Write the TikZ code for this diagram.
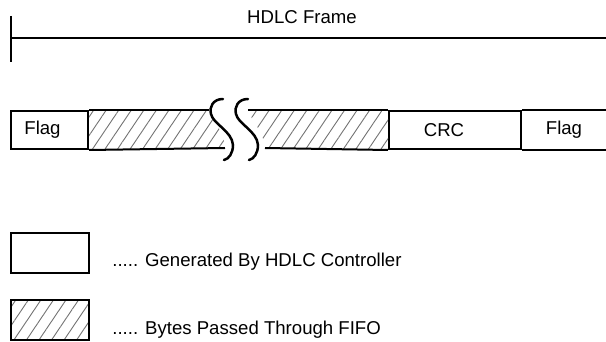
\documentclass[tikz,border=0pt]{standalone}
\usepackage{fontspec}
\setmainfont{Liberation Sans}
\usetikzlibrary{patterns.meta}

\begin{document}
\begin{tikzpicture}[
  x=0.5pt, y=-0.5pt,
  txt/.style={font=\fontsize{9.3}{11}\selectfont, inner sep=0pt},
  fld/.style={txt, draw, line width=1pt, anchor=north west,
              minimum height=19pt},
  hatch/.style={pattern={Lines[angle=56, distance=5.2pt, line width=0.45pt]},
                pattern color=black!55},
  brk/.style={line width=1.25pt, line cap=round}
]
  \useasboundingbox (0,0) rectangle (606,342);

  % frame span
  \node[txt] (title) at (302,17) {HDLC Frame};
  \coordinate (spanL) at (11,38);
  \coordinate (spanR) at (606,38);
  \draw[line width=1pt] (spanL) -- (spanR);
  \draw[line width=1pt] ([yshift=11pt]spanL) -- ([yshift=-12pt]spanL);

  % frame fields
  \node[fld, minimum width=38.5pt] (flagA) at (10,110) {Flag\hspace*{7pt}};
  \node[fld, minimum width=66pt] (crc) at (388,110) {CRC\hspace*{11pt}};
  \node[fld, draw=none, minimum width=43pt] (flagB) at (520,110) {Flag};

  % data bytes, with break
  \fill[hatch] (flagA.north east) -- (209,110)
    .. controls (214,122) and (224,132) .. (225,148) -- (flagA.south east) -- cycle;
  \fill[hatch] (248,110) -- (crc.north west) -- (crc.south west) -- (265,148)
    .. controls (264,132) and (252,122) .. (248,110) -- cycle;
  \draw[line width=1pt] (flagA.north east) -- (209,110);
  \draw[line width=1pt] (flagA.south east) -- (225,148);
  \draw[line width=1pt] (248,110) -- (crc.north west);
  \draw[line width=1pt] (265,148) -- (crc.south west);
  \draw[line width=1pt] (crc.north east) -- (flagB.north east);
  \draw[line width=1pt] (crc.south east) -- (flagB.south east);
  \draw[brk] (223,99) .. controls (213,99) and (209,107) .. (211,114)
    .. controls (213,124) and (232,131) .. (233,145)
    .. controls (233,153) and (229,159) .. (224,160);
  \draw[brk] (248,99) .. controls (238,99) and (234,107) .. (236,114)
    .. controls (238,124) and (257,131) .. (258,145)
    .. controls (258,153) and (254,159) .. (249,160);

  % legend
  \node[fld, minimum width=39pt, minimum height=20pt] (keyA) at (10,232) {};
  \node[fld, hatch, minimum width=39pt, minimum height=20pt] (keyB) at (10,299) {};
  \node[txt, anchor=west] (keyAtxt) at (112,262) {..... Generated By HDLC Controller};
  \node[txt, anchor=west] (keyBtxt) at (112,330) {..... Bytes Passed Through FIFO};

\end{tikzpicture}
\end{document}
